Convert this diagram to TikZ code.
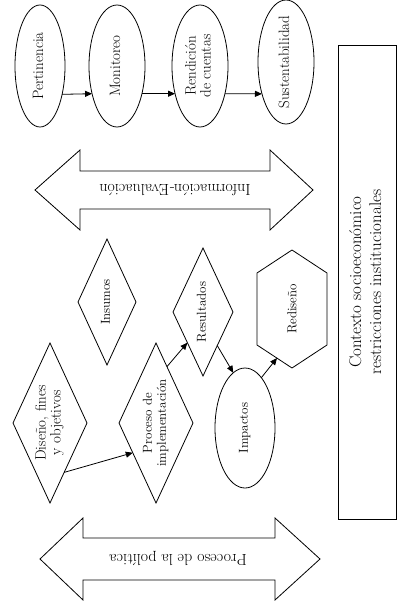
\documentclass[tikz,border=0pt]{standalone}
\usepackage{fontspec}
\usetikzlibrary{shapes.geometric,arrows.meta}
\newcommand\ZWbox[1]{\makebox[0pt]{\begin{tabular}{@{}c@{}}#1\end{tabular}}}
\tikzset{
  lw/.style={line width=0.8pt},
  base/.style={draw, lw, inner sep=0pt, outer sep=0pt, rotate=90},
  ell/.style={base, ellipse},
  dia/.style={base, diamond},
  big/.style={font=\fontsize{15}{15}\selectfont},
  mid/.style={font=\fontsize{13}{14}\selectfont},
  arr/.style={lw, -{Triangle[length=7pt,width=6pt]}},
  flow/.style={lw, line join=miter},
}
\begin{document}
\begin{tikzpicture}[x=1pt,y=-1pt]
\useasboundingbox (0,0) rectangle (398,609);
% top row
\node[ell, big, minimum width=122, minimum height=50] (pert) at (40,66) {\ZWbox{Pertinencia}};
\node[ell, big, minimum width=122, minimum height=56] (moni) at (117,66) {\ZWbox{Monitoreo}};
\node[ell, big, minimum width=122, minimum height=56] (rend) at (200,66) {\ZWbox{Rendición\\de cuentas}};
\node[ell, big, minimum width=124, minimum height=56] (sust) at (286,62) {\ZWbox{Sustentabilidad}};
\draw[arr] (pert.218) -- (moni.138);
\draw[arr] (moni.222) -- (rend.138);
\draw[arr] (rend.222) -- (sust.143);
% context box
\node[base, rectangle, minimum width=474, minimum height=58, font=\fontsize{17}{20}\selectfont] (ctx) at (367,282)
  {\ZWbox{Contexto socioeconómico\\restricciones institucionales}};
% double arrows
\draw[flow] (35,190) -- (80,150) -- (80,171) -- (270,171) -- (270,150) -- (313,190)
  -- (270,230) -- (270,209) -- (80,209) -- (80,230) -- cycle;
\node[rotate=180, font=\fontsize{16}{16}\selectfont] (infoeval) at (175,190) {Información-Evaluación};
\draw[flow] (40,559) -- (83,518) -- (83,538) -- (275,538) -- (275,518) -- (320,559)
  -- (275,600) -- (275,580) -- (83,580) -- (83,600) -- cycle;
\node[rotate=180, font=\fontsize{16}{16}\selectfont] (procpol) at (178,559) {Proceso de la política};
% process shapes
\node[dia, big, minimum width=160, minimum height=74] (diseno) at (50,423) {\ZWbox{Diseño, fines\\y objetivos}};
\node[dia, mid, minimum width=160, minimum height=74] (impl) at (156,423) {\ZWbox{Proceso de\\implementación}};
\node[dia, mid, minimum width=126, minimum height=58] (insumos) at (107,302) {\ZWbox{Insumos}};
\node[dia, mid, minimum width=128, minimum height=60] (res) at (203,312) {\ZWbox{Resultados}};
\node[ell, mid, minimum width=120, minimum height=60] (imp) at (245,428) {\ZWbox{Impactos}};
\node[rotate=90, mid, inner sep=0pt] (red) at (292,309) {Rediseño};
\draw[flow] (292,250) -- (327,273) -- (327,345) -- (292,368) -- (257,345) -- (257,273) -- cycle;
\coordinate (redin) at (277,358);
\draw[arr] (diseno.196) -- (impl.142);
\draw[arr] (impl.349) -- (res.153);
\draw[arr] (res.203) -- (imp.12);
\draw[arr] (imp.342) -- (redin);
\end{tikzpicture}
\end{document}
